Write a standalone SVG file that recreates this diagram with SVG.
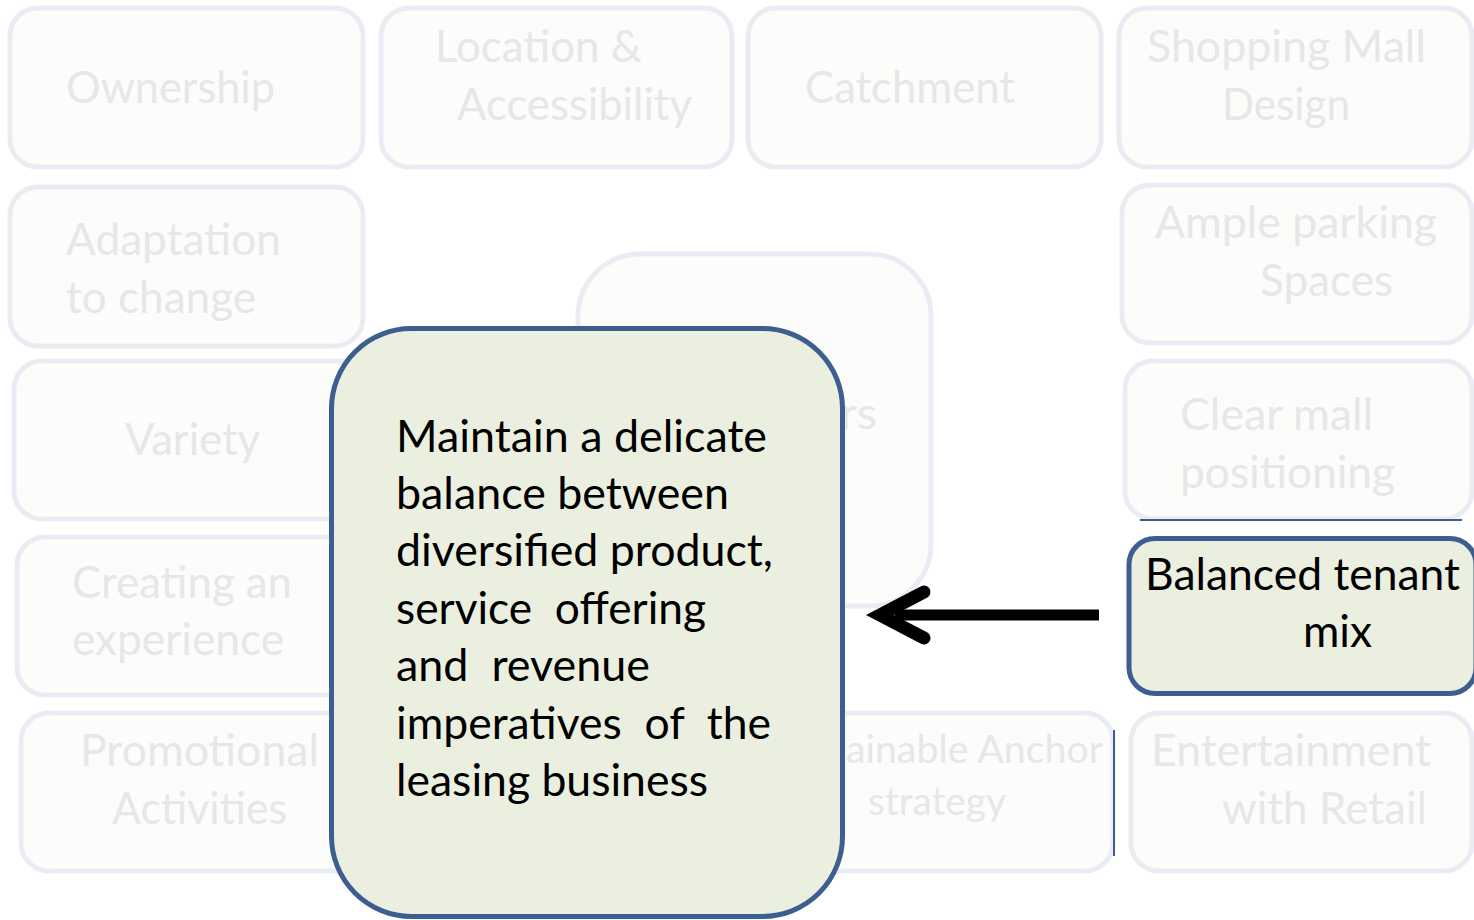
<svg xmlns="http://www.w3.org/2000/svg" width="1474" height="920" viewBox="0 0 1474 920">
<style>
.f rect{fill:#fcfcfb;stroke:#e9edf3;stroke-width:5}
.f text{font-family:Lato,"Open Sans","Liberation Sans",sans-serif;font-size:44px;fill:#e6e7e8}
.h rect{fill:#ebefdf;stroke:#3d5f8f;stroke-width:5}
.h text{font-family:Lato,"Open Sans","Liberation Sans",sans-serif;font-size:44px;fill:#000;white-space:pre}
.art{stroke:#3d5f8f;stroke-width:2;fill:none}
</style>
<rect width="1474" height="920" fill="#ffffff"/>
<g id="center-hidden" class="f">
  <rect x="578" y="254" width="353" height="352" rx="62"/>
  <text x="840" y="429" textLength="37" lengthAdjust="spacingAndGlyphs">rs</text>
</g>
<g id="ownership" class="f">
  <rect x="10" y="8" width="353" height="159" rx="28"/>
  <text x="66" y="103" textLength="209" lengthAdjust="spacingAndGlyphs">Ownership</text>
</g>
<g id="location" class="f">
  <rect x="381" y="8" width="351" height="159" rx="28"/>
  <text x="435" y="62" textLength="207" lengthAdjust="spacingAndGlyphs">Location &amp;</text>
  <text x="457" y="120" textLength="235" lengthAdjust="spacingAndGlyphs">Accessibility</text>
</g>
<g id="catchment" class="f">
  <rect x="748" y="8" width="353" height="159" rx="28"/>
  <text x="805" y="103" textLength="210" lengthAdjust="spacingAndGlyphs">Catchment</text>
</g>
<g id="shopping" class="f">
  <rect x="1119" y="8" width="353" height="159" rx="28"/>
  <text x="1147" y="62" textLength="279" lengthAdjust="spacingAndGlyphs">Shopping Mall</text>
  <text x="1222" y="120" textLength="128" lengthAdjust="spacingAndGlyphs">Design</text>
</g>
<g id="adaptation" class="f">
  <rect x="10" y="187" width="353" height="159" rx="28"/>
  <text x="66" y="255" textLength="215" lengthAdjust="spacingAndGlyphs">Adaptation</text>
  <text x="66" y="313" textLength="190" lengthAdjust="spacingAndGlyphs">to change</text>
</g>
<g id="parking" class="f">
  <rect x="1122" y="185" width="350" height="158" rx="28"/>
  <text x="1155" y="238" textLength="282" lengthAdjust="spacingAndGlyphs">Ample parking</text>
  <text x="1260" y="296" textLength="133" lengthAdjust="spacingAndGlyphs">Spaces</text>
</g>
<g id="positioning" class="f">
  <rect x="1125" y="361" width="347" height="158" rx="28"/>
  <text x="1180" y="430" textLength="193" lengthAdjust="spacingAndGlyphs">Clear mall</text>
  <text x="1180" y="488" textLength="215" lengthAdjust="spacingAndGlyphs">positioning</text>
  <line class="art" x1="1140" y1="520" x2="1462" y2="520"/>
</g>
<g id="variety" class="f">
  <rect x="14" y="361" width="353" height="158" rx="28"/>
  <text x="125" y="455" textLength="135" lengthAdjust="spacingAndGlyphs">Variety</text>
</g>
<g id="experience" class="f">
  <rect x="17" y="537" width="353" height="158" rx="28"/>
  <text x="72" y="598" textLength="220" lengthAdjust="spacingAndGlyphs">Creating an</text>
  <text x="72" y="655" textLength="212" lengthAdjust="spacingAndGlyphs">experience</text>
</g>
<g id="promotional" class="f">
  <rect x="21" y="713" width="353" height="158" rx="28"/>
  <text x="80" y="766" textLength="239" lengthAdjust="spacingAndGlyphs">Promotional</text>
  <text x="112" y="824" textLength="175" lengthAdjust="spacingAndGlyphs">Activities</text>
</g>
<g id="anchor" class="f">
  <rect x="760" y="713" width="353" height="158" rx="28"/>
  <text x="772" y="763" textLength="331" lengthAdjust="spacingAndGlyphs" style="font-size:38px">Sustainable Anchor</text>
  <text x="868" y="815" textLength="138" lengthAdjust="spacingAndGlyphs" style="font-size:38px">strategy</text>
  <line class="art" x1="1114" y1="730" x2="1114" y2="856"/>
</g>
<g id="entertainment" class="f">
  <rect x="1131" y="713" width="341" height="158" rx="28"/>
  <text x="1151" y="766" textLength="280" lengthAdjust="spacingAndGlyphs">Entertainment</text>
  <text x="1222" y="824" textLength="205" lengthAdjust="spacingAndGlyphs">with Retail</text>
</g>
<g id="main" class="h">
  <rect x="331.5" y="328.5" width="511" height="588" rx="80"/>
  <text x="396" y="452" textLength="371" lengthAdjust="spacingAndGlyphs">Maintain a delicate</text>
  <text x="396" y="509" textLength="333" lengthAdjust="spacingAndGlyphs">balance between</text>
  <text x="396" y="566" textLength="377" lengthAdjust="spacingAndGlyphs">diversified product,</text>
  <text x="396" y="624" textLength="310" lengthAdjust="spacingAndGlyphs">service  offering</text>
  <text x="396" y="681" textLength="254" lengthAdjust="spacingAndGlyphs">and  revenue</text>
  <text x="396" y="739" textLength="375" lengthAdjust="spacingAndGlyphs">imperatives  of  the</text>
  <text x="396" y="796" textLength="312" lengthAdjust="spacingAndGlyphs">leasing business</text>
</g>
<g id="balanced" class="h">
  <rect x="1129" y="538.5" width="347" height="155" rx="26"/>
  <text x="1145" y="590" textLength="315" lengthAdjust="spacingAndGlyphs">Balanced tenant</text>
  <text x="1303" y="647" textLength="69" lengthAdjust="spacingAndGlyphs">mix</text>
</g>
<g id="connectors">
  <line x1="1099" y1="615" x2="895" y2="615" stroke="#000" stroke-width="11"/>
  <polyline points="924,592 880,615 924,638" fill="none" stroke="#000" stroke-width="13" stroke-linecap="round" stroke-linejoin="miter"/>
</g>
</svg>
